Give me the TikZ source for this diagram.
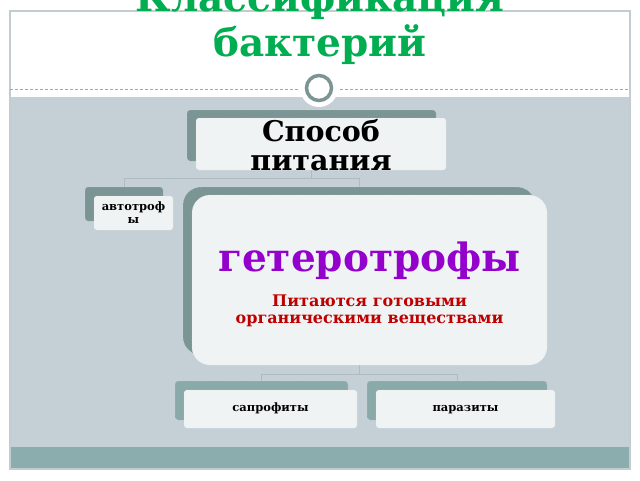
\documentclass[tikz,border=0pt]{standalone}
\usepackage{fontspec}
\setmainfont{DejaVu Serif}
\usepackage{tikz}
\usetikzlibrary{positioning}

\definecolor{slidegray}{HTML}{C5D0D6}
\definecolor{bandteal}{HTML}{8BADAD}
\definecolor{framegray}{HTML}{C3CDD1}
\definecolor{backteal}{HTML}{7B9494}
\definecolor{backlight}{HTML}{8AAAAA}
\definecolor{frontfill}{HTML}{EFF3F4}
\definecolor{titlegreen}{HTML}{00AD50}
\definecolor{heteropurple}{HTML}{9400CC}
\definecolor{noteRed}{HTML}{BE0000}
\definecolor{linkgray}{HTML}{AEBCC2}

\newcommand{\bigword}[1]{\fontsize{39}{40}\selectfont\color{heteropurple}#1}
\newcommand{\noteline}[1]{\color{noteRed}#1}

\tikzset{
  backbox/.style={fill=backteal, draw=white!80!gray, densely dotted, rounded corners=3, inner sep=0},
  frontbox/.style={fill=frontfill, draw=white!85!gray, densely dotted, rounded corners=3, inner sep=0, align=center},
  smalltext/.style={font=\bfseries\fontsize{11.5}{13}\selectfont, text height=8, text depth=2.5},
  link/.style={draw=linkgray, line width=0.8pt},
}

\begin{document}
\begin{tikzpicture}[x=1pt, y=-1pt]
                \useasboundingbox (0, 0) rectangle (640, 480);
                % Slide
                \fill[white] (0, 0) rectangle (640, 480);
                \fill[slidegray] (10, 97) rectangle (630, 447);
                \fill[bandteal] (10, 447) rectangle (630, 469);
                \draw[framegray, line width=1.2pt] (10, 11) rectangle (630, 469);
                \draw[gray!70, densely dashed, line width=0.5pt] (10, 89) -- (630, 89);
                \node[font=\bfseries\fontsize{39}{45}\selectfont, text=titlegreen, align=center, inner sep=0] (title) at (320, 23) {Классификация\\бактерий};
                \fill[white] (319, 88) circle (19);
                \draw[backteal, line width=3.5pt] (319, 88) circle (12.5);

                % Back boxes
                \node[backbox, minimum width=249, minimum height=51] (sp) at (311.5, 135.5) {};
                \node[backbox, minimum width=78, minimum height=34] (auto) at (124, 204) {};
                \node[backbox, rounded corners=18, minimum width=352, minimum height=168] (hetero) at (359, 271) {};
                \node[backbox, fill=backlight, minimum width=173, minimum height=39] (sapro) at (261.5, 400.5) {};
                \node[backbox, fill=backlight, minimum width=180, minimum height=39] (para) at (457, 400.5) {};

                % Links
                \draw[link] (sp.south) -- ++(0, 17) -| (auto.north);
                \draw[link] (sp.south) -- ++(0, 17) -| (hetero.north);
                \draw[link] (hetero.south) -- ++(0, 19) -| (sapro.north);
                \draw[link] (hetero.south) -- ++(0, 19) -| (para.north);

                % Front boxes
                \node[frontbox, minimum width=250, minimum height=52] (spF) at (321, 144) {};
                \node[font=\bfseries\fontsize{28.5}{29}\selectfont, align=center, inner sep=0] (spText) at (321, 145) {Способ\\питания};
                \node[frontbox, minimum width=79, minimum height=34, font=\bfseries\fontsize{11.5}{13}\selectfont] (autoF) at (133.5, 213) {автотроф\\ы};
                \node[frontbox, rounded corners=18, minimum width=355, minimum height=170] (heteroF) at (369.5, 280) {};
                \node[font=\bfseries\fontsize{16}{17}\selectfont, align=center, inner sep=0] (heteroText) at (369.5, 284) {\bigword{гетеротрофы}\\[14pt]\noteline{Питаются готовыми}\\\noteline{органическими веществами}};
                \node[frontbox, minimum width=173, minimum height=38, smalltext] (saproF) at (270.5, 409) {сапрофиты};
                \node[frontbox, minimum width=179, minimum height=38, smalltext] (paraF) at (465.5, 409) {паразиты};
            \end{tikzpicture}
\end{document}
